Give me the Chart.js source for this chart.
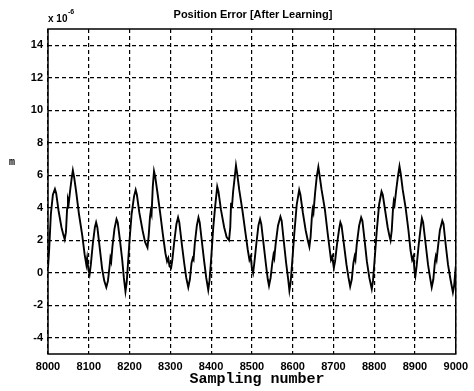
<!DOCTYPE html>
<html><head><meta charset="utf-8">
<script src="https://cdn.jsdelivr.net/npm/chart.js@4.4.1/dist/chart.umd.min.js"></script>
<style>html,body{margin:0;padding:0;background:#fff}#wrap{width:474px;height:391px;position:relative}</style>
</head><body><div id="wrap"><canvas id="c" width="474" height="391"></canvas></div>
<script>
const chartTitle = 'Position Error [After Learning]';
const xAxisLabel = 'Sampling number';
const yAxisLabel = 'm';
const yScaleBase = 'x 10';
const yScaleExp = '-6';
const xTickValues = [8000, 8100, 8200, 8300, 8400, 8500, 8600, 8700, 8800, 8900, 9000];
const yTickValues = [-4, -2, 0, 2, 4, 6, 8, 10, 12, 14];
const sampleNumbers = [
8000,8003,8007,8012,8017,8020,8026,8033,8037,8041,8044,8047,8049,8051,8054,8058,8061,8064,8069,8076,
8084,8090,8094,8096,8099,8102,8105,8110,8115,8118,8121,8127,8133,8138,8143,8147,8151,8153,8155,8158,
8163,8168,8171,8176,8182,8186,8190,8193,8196,8200,8205,8211,8215,8218,8224,8232,8238,8244,8247,8250,
8252,8254,8257,8260,8263,8268,8275,8282,8288,8292,8295,8298,8302,8305,8310,8315,8319,8322,8328,8334,
8339,8344,8348,8352,8355,8357,8360,8365,8369,8372,8377,8383,8388,8393,8396,8400,8405,8410,8415,8418,
8424,8432,8438,8444,8447,8449,8451,8454,8458,8461,8464,8469,8477,8484,8490,8494,8497,8500,8503,8506,
8511,8516,8520,8523,8529,8535,8539,8542,8546,8550,8553,8555,8558,8564,8570,8573,8578,8584,8589,8592,
8595,8599,8604,8610,8616,8619,8625,8632,8637,8641,8644,8647,8649,8651,8655,8659,8663,8666,8671,8679,
8686,8691,8694,8697,8701,8704,8709,8714,8717,8720,8726,8732,8737,8741,8745,8749,8752,8754,8757,8763,
8768,8771,8776,8782,8788,8794,8797,8801,8806,8812,8818,8821,8827,8833,8837,8840,8843,8846,8848,8850,
8854,8858,8862,8865,8870,8877,8884,8889,8893,8896,8899,8901,8904,8909,8914,8917,8920,8926,8932,8937,
8941,8945,8949,8951,8953,8956,8961,8967,8970,8975,8981,8987,8993,8996,9000];
const errorValues = [
0.3,1.5,3.6,4.8,5.15,4.9,3.8,2.8,2.4,2.05,2.5,4.0,4.5,4.3,5.0,5.8,6.3,5.9,5.0,3.6,
2.3,1.1,0.5,0.9,0.2,-0.1,0.5,1.8,2.8,3.1,2.8,1.5,0.2,-0.5,-0.9,-0.5,0.4,0.9,0.7,1.6,
2.7,3.3,3.1,2.1,0.8,-0.3,-1.15,-0.6,0.5,2.0,3.6,4.7,5.1,4.8,3.7,2.6,1.9,1.55,2.3,3.4,
3.8,3.6,5.3,6.25,5.9,5.0,3.7,2.3,1.2,0.7,0.9,0.4,0.3,0.8,2.0,3.0,3.4,3.1,1.8,0.6,
-0.3,-0.9,-0.4,0.6,0.9,0.8,1.8,2.9,3.4,3.1,2.0,0.7,-0.3,-1.05,-0.5,0.8,2.7,4.1,5.3,5.0,
3.9,2.8,2.2,2.0,2.8,4.3,4.0,5.0,5.9,6.6,6.1,5.1,3.8,2.5,1.4,0.8,1.0,0.3,0.0,0.6,
1.8,2.9,3.3,3.0,1.7,0.4,-0.4,-0.8,-0.3,0.6,1.1,0.9,1.7,2.9,3.45,3.2,2.0,0.6,-0.4,-1.1,
-0.6,0.7,2.4,4.2,5.1,4.8,3.7,2.6,2.0,1.6,2.2,3.4,3.9,3.7,4.9,5.9,6.5,6.0,5.1,3.9,
2.4,1.4,0.8,1.0,0.3,0.7,1.8,2.7,3.1,2.9,1.7,0.5,-0.3,-0.85,-0.4,0.6,1.0,0.8,1.7,2.9,
3.4,3.2,2.1,0.7,-0.3,-1.0,-0.5,0.8,2.5,4.2,5.0,4.8,3.8,2.8,2.3,2.0,2.6,3.9,4.4,4.2,
5.1,5.9,6.55,6.1,5.1,4.0,2.6,1.4,0.8,1.0,0.1,-0.2,0.4,1.7,2.8,3.35,3.1,1.8,0.5,-0.3,
-0.9,-0.4,0.7,1.0,0.8,1.5,2.6,3.2,3.0,1.8,0.5,-0.4,-1.2,-0.8,0.4];

const textPlugin = {
  id: 'texts',
  afterDraw(chart) {
    const ctx = chart.ctx, a = chart.chartArea;
    ctx.save();
    ctx.setLineDash([]);
    ctx.strokeStyle = '#000';
    ctx.lineWidth = 1.5;
    ctx.strokeRect(a.left, a.top, a.right - a.left, a.bottom - a.top);
    ctx.fillStyle = '#000';
    ctx.font = 'bold 11px "Liberation Sans", Arial, sans-serif';
    ctx.textAlign = 'center';
    ctx.textBaseline = 'middle';
    ctx.fillText(chartTitle, 253, 15);
    ctx.textAlign = 'left';
    ctx.font = 'bold 10px "Liberation Sans", Arial, sans-serif';
    ctx.fillText(yScaleBase, a.left, 19);
    const w = ctx.measureText(yScaleBase).width;
    ctx.font = 'bold 7px "Liberation Sans", Arial, sans-serif';
    ctx.fillText(yScaleExp, a.left + w + 0.5, 12);
    ctx.font = 'bold 10px "Liberation Mono", "Courier New", monospace';
    ctx.textAlign = 'center';
    ctx.fillText(yAxisLabel, 12, 162);
    ctx.font = 'bold 15px "Liberation Mono", "Courier New", monospace';
    ctx.fillText(xAxisLabel, 257, 379);
    ctx.restore();
  }
};

new Chart(document.getElementById('c'), {
  type: 'line',
  data: {
    datasets: [{
      data: sampleNumbers.map((s, i) => ({x: s, y: errorValues[i]})),
      borderColor: '#000',
      borderWidth: 1.9,
      pointRadius: 0,
      tension: 0,
      fill: false
    }]
  },
  options: {
    responsive: false,
    animation: false,
    layout: {padding: {top: 29, right: 13, left: 0, bottom: 0}},
    plugins: {legend: {display: false}, tooltip: {enabled: false}, title: {display: false}},
    scales: {
      x: {
        type: 'linear', min: 8000, max: 9000,
        afterBuildTicks: s => { s.ticks = xTickValues.map(v => ({value: v})); },
        afterFit: s => { s.height = 37; },
        ticks: {color: '#000', padding: 6, maxRotation: 0, autoSkip: false,
          callback: v => String(v),
          font: {family: '"Liberation Sans", Arial, sans-serif', size: 11, weight: 'bold'}},
        grid: {color: '#000', lineWidth: 1.2, drawTicks: false},
        border: {display: false, dash: [4, 3]}
      },
      y: {
        type: 'linear', min: -5, max: 15,
        afterBuildTicks: s => { s.ticks = yTickValues.map(v => ({value: v})); },
        afterFit: s => { s.width = 48; },
        ticks: {color: '#000', padding: 5, autoSkip: false,
          callback: v => String(v),
          font: {family: '"Liberation Sans", Arial, sans-serif', size: 11, weight: 'bold'}},
        grid: {color: '#000', lineWidth: 1.2, drawTicks: false},
        border: {display: false, dash: [4, 3]}
      }
    }
  },
  plugins: [textPlugin]
});
</script></body></html>
